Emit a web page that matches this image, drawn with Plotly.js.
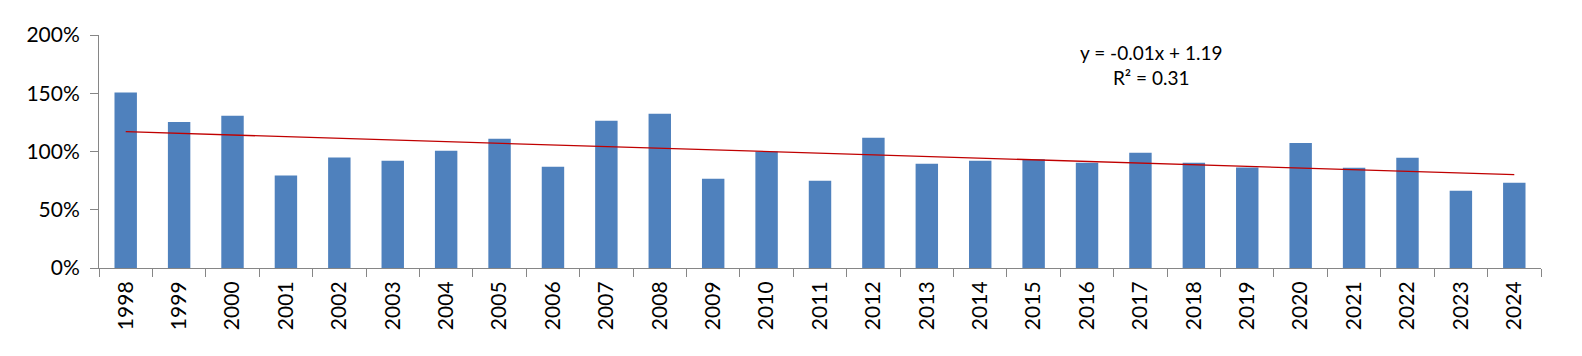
<!DOCTYPE html>
<html><head><meta charset="utf-8">
<script src="https://cdn.plot.ly/plotly-3.0.1.min.js"></script>
<style>html,body{margin:0;padding:0;background:#fff}#chart{width:1582px;height:356px}</style>
</head><body><div id="chart"></div>
<script>
const years = ['1998','1999','2000','2001','2002','2003','2004','2005','2006','2007','2008','2009','2010','2011','2012','2013','2014','2015','2016','2017','2018','2019','2020','2021','2022','2023','2024'];
const values = [1.506,1.254,1.306,0.794,0.949,0.920,1.006,1.109,0.869,1.263,1.323,0.766,1.000,0.749,1.117,0.894,0.920,0.934,0.903,0.989,0.903,0.863,1.074,0.860,0.946,0.663,0.731];
const trendLabel = 'y = -0.01x + 1.19<br>R² = 0.31';

// linear trend from the data (x = 1..n)
const n = values.length;
const xs = values.map((_, i) => i + 1);
const mx = xs.reduce((a, b) => a + b, 0) / n;
const my = values.reduce((a, b) => a + b, 0) / n;
let sxy = 0, sxx = 0;
xs.forEach((x, i) => { sxy += (x - mx) * (values[i] - my); sxx += (x - mx) * (x - mx); });
const slope = sxy / sxx, icpt = my - slope * mx;
const trend = [icpt + slope * 1, icpt + slope * n];

const font = 'Lato, "Open Sans", sans-serif';
Plotly.newPlot('chart', [
  {type: 'bar', x: years, y: values, marker: {color: '#4F81BD'}, hoverinfo: 'none'},
  {type: 'scatter', mode: 'lines', x: [years[0], years[n - 1]], y: trend,
   line: {color: '#C00000', width: 1.3}, hoverinfo: 'none'}
], {
  width: 1582, height: 356,
  margin: {l: 99, r: 41, t: 35, b: 88},
  showlegend: false,
  paper_bgcolor: '#fff', plot_bgcolor: '#fff',
  bargap: 0.58,
  font: {family: font, color: '#000', size: 21},
  xaxis: {type: 'category', tickangle: -90, ticks: 'outside', tickson: 'boundaries',
    ticklen: 8, tickcolor: '#868686', showline: true, linecolor: '#868686', linewidth: 1,
    showgrid: false, zeroline: false, ticklabelstandoff: 4, tickfont: {size: 21, family: font}},
  yaxis: {range: [0, 2], tickvals: [0, 0.5, 1, 1.5, 2], ticktext: ['0%','50%','100%','150%','200%'],
    ticks: 'outside', ticklen: 8, tickcolor: '#868686', showline: true, linecolor: '#868686',
    linewidth: 1, showgrid: false, zeroline: false, ticklabelstandoff: 6,
    tickfont: {size: 21, family: font}},
  annotations: [{xref: 'paper', yref: 'paper', x: 0.7296, y: 0.87, xanchor: 'center', yanchor: 'middle',
    text: trendLabel, showarrow: false, align: 'center', font: {size: 19, family: font, color: '#000'}}]
}, {displayModeBar: false, staticPlot: true});
</script></body></html>
